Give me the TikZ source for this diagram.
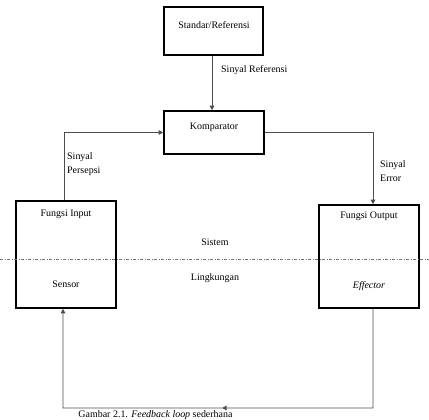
\documentclass[tikz,border=0pt]{standalone}
\usepackage{fontspec}
\setmainfont{Liberation Serif}
\usetikzlibrary{arrows.meta,calc}
\begin{document}
\begin{tikzpicture}[x=1bp,y=-1bp,
  box/.style={draw=black,line width=1.6bp,minimum width=#1,inner sep=0pt},
  txt/.style={inner sep=0pt,font=\fontsize{10}{14}\selectfont},
  conn/.style={draw=black!70,line width=0.8bp},
  arr/.style={conn,-{Triangle[width=4.5bp,length=4.5bp]}},
  sep/.style={draw=black!55,line width=0.7bp,dash pattern=on 3bp off 1.5bp on 1bp off 1.5bp}]
\useasboundingbox (0,0) rectangle (429,420);
% boxes
\node[box=99bp,minimum height=48bp] (std) at (213.5,31) {};
\node[box=100bp,minimum height=43bp] (kom) at (214,132.5) {};
\node[box=100bp,minimum height=107bp] (inp) at (66,254.5) {};
\node[box=100bp,minimum height=103bp] (out) at (369,256.5) {};
% box texts
\node[txt] (stdt) at (214,25) {Standar/Referensi};
\node[txt] (komt) at (214,127) {Komparator};
\node[txt] (inpt) at (66,214) {Fungsi Input};
\node[txt] (inps) at (66,284) {Sensor};
\node[txt] (outt) at (369,216) {Fungsi Output};
\node[txt] (oute) at (369,286) {\textit{Effector}};
% separator
\coordinate (dl) at (0,259);
\coordinate (dr) at (429,259);
\draw[sep] (dl) -- (dr);
\node[txt] (sis) at (215,242) {Sistem};
\node[txt] (lin) at (215,278) {Lingkungan};
% connectors
\draw[arr] ([xshift=-1.5bp]std.south) -- ([xshift=-1.5bp]std.south |- kom.north);
\node[txt,anchor=west] (sref) at (221,70) {Sinyal Referensi};
\draw[arr] ([xshift=-2bp]inp.north) |- (kom.west);
\node[txt,anchor=west,align=left] (sper) at (67,164) {Sinyal\\Persepsi};
\draw[arr] (kom.east) -| ([xshift=4bp]out.north);
\node[txt,anchor=west,align=left] (serr) at (380,171.5) {Sinyal\\Error};
\coordinate (br) at (373,408);
\coordinate (bm) at (222,408);
\coordinate (bl) at (63,408);
\draw[arr] ([xshift=4bp]out.south) -- (br) -- (bm);
\draw[arr] (bm) -- (bl) -- ([xshift=-3bp]inp.south);
% caption
\node[txt,anchor=base] (cap) at (155.5,417.3) {Gambar 2.1. \textit{Feedback loop} sederhana};
\end{tikzpicture}
\end{document}
